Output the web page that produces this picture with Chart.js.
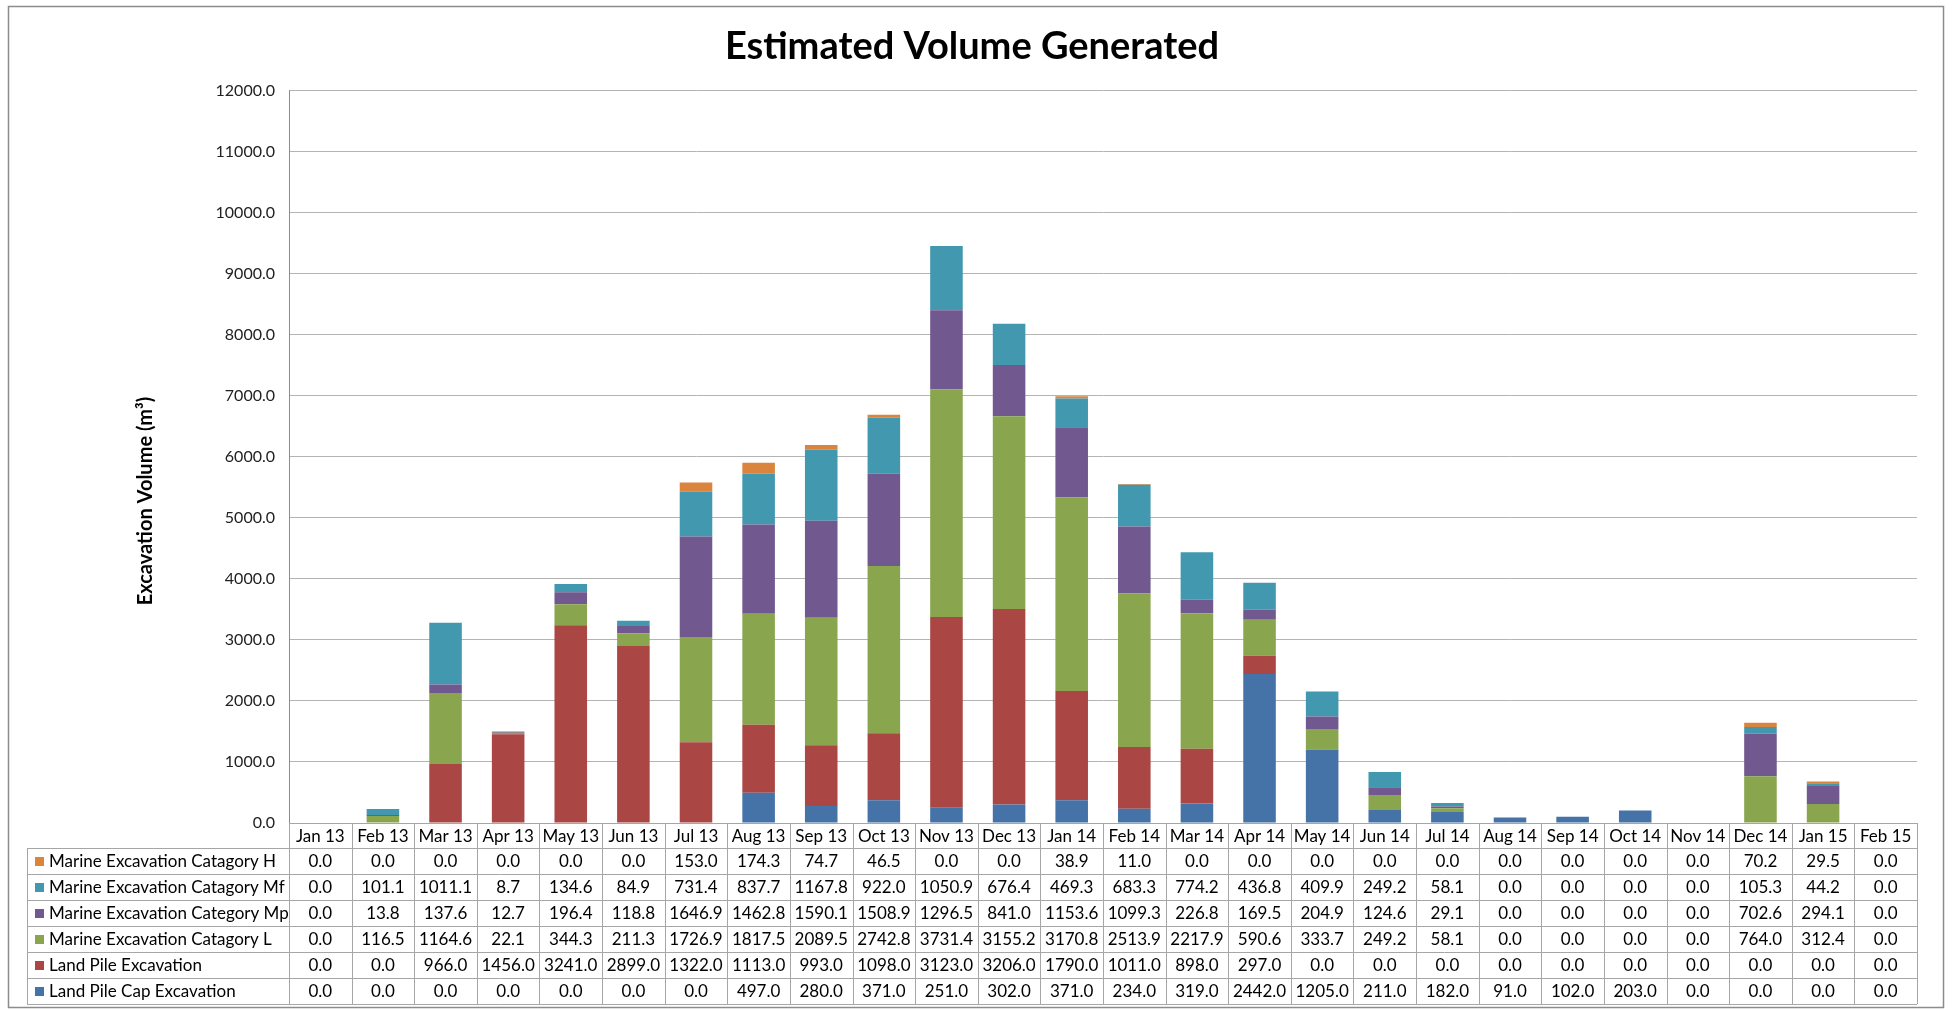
<!DOCTYPE html>
<html>
<head>
<meta charset="utf-8">
<title>Estimated Volume Generated</title>
<script src="https://cdn.jsdelivr.net/npm/chart.js@4.4.1/dist/chart.umd.min.js"></script>
<style>
  html, body { margin: 0; padding: 0; background: #fff; }
  #wrap { width: 1952px; height: 1011px; position: relative; }
</style>
</head>
<body>
<div id="wrap"><canvas id="volChart"></canvas></div>
<script>
// months on the x axis
const months = ['Jan 13', 'Feb 13', 'Mar 13', 'Apr 13', 'May 13', 'Jun 13', 'Jul 13', 'Aug 13', 'Sep 13',
    'Oct 13', 'Nov 13', 'Dec 13', 'Jan 14', 'Feb 14', 'Mar 14', 'Apr 14', 'May 14', 'Jun 14', 'Jul 14',
    'Aug 14', 'Sep 14', 'Oct 14', 'Nov 14', 'Dec 14', 'Jan 15', 'Feb 15'];

// series values (m3)
const catH = [0, 0, 0, 0, 0, 0, 153.0, 174.3, 74.7, 46.5, 0, 0, 38.9, 11.0, 0, 0, 0, 0, 0, 0, 0, 0, 0, 70.2, 29.5, 0];
const catMf = [0, 101.1, 1011.1, 8.7, 134.6, 84.9, 731.4, 837.7, 1167.8, 922.0, 1050.9, 676.4, 469.3, 683.3, 774.2,
    436.8, 409.9, 249.2, 58.1, 0, 0, 0, 0, 105.3, 44.2, 0];
const catMp = [0, 13.8, 137.6, 12.7, 196.4, 118.8, 1646.9, 1462.8, 1590.1, 1508.9, 1296.5, 841.0, 1153.6, 1099.3,
    226.8, 169.5, 204.9, 124.6, 29.1, 0, 0, 0, 0, 702.6, 294.1, 0];
const catL = [0, 116.5, 1164.6, 22.1, 344.3, 211.3, 1726.9, 1817.5, 2089.5, 2742.8, 3731.4, 3155.2, 3170.8, 2513.9,
    2217.9, 590.6, 333.7, 249.2, 58.1, 0, 0, 0, 0, 764.0, 312.4, 0];
const landPile = [0, 0, 966, 1456, 3241, 2899, 1322, 1113, 993, 1098, 3123, 3206, 1790, 1011, 898, 297, 0, 0, 0,
    0, 0, 0, 0, 0, 0, 0];
const landPileCap = [0, 0, 0, 0, 0, 0, 0, 497, 280, 371, 251, 302, 371, 234, 319, 2442, 1205, 211, 182, 91, 102,
    203, 0, 0, 0, 0];

// y axis
const yMax = 12000;
const yStep = 1000;

const FONT = 'Lato, "Open Sans", sans-serif';

// stacking order: first dataset sits at the bottom
const series = [
    { label: 'Land Pile Cap Excavation', data: landPileCap, color: '#4572A7' },
    { label: 'Land Pile Excavation', data: landPile, color: '#AA4643' },
    { label: 'Marine Excavation Catagory L', data: catL, color: '#89A54E' },
    { label: 'Marine Excavation Category Mp', data: catMp, color: '#71588F' },
    { label: 'Marine Excavation Catagory Mf', data: catMf, color: '#4198AF' },
    { label: 'Marine Excavation Catagory H', data: catH, color: '#DB843D' }
];

// white background + outer frame
const framePlugin = {
    id: 'frame',
    beforeDraw(chart) {
        const ctx = chart.ctx;
        ctx.save();
        ctx.fillStyle = '#fff';
        ctx.fillRect(0, 0, chart.width, chart.height);
        ctx.strokeStyle = '#8c8c8c';
        ctx.lineWidth = 1.5;
        ctx.strokeRect(8.5, 6.5, chart.width - 17, chart.height - 10);
        ctx.restore();
    }
};

// rotated y axis title, centred on the whole chart like Excel does
const yTitlePlugin = {
    id: 'yTitle',
    afterDraw(chart) {
        const ctx = chart.ctx;
        ctx.save();
        ctx.translate(146, 501);
        ctx.rotate(-Math.PI / 2);
        ctx.font = 'bold 20px ' + FONT;
        ctx.fillStyle = '#000';
        ctx.textAlign = 'center';
        ctx.textBaseline = 'middle';
        ctx.fillText('Excavation Volume (m\u00B3)', 0, 0);
        ctx.restore();
    }
};

// data table under the plot
const tablePlugin = {
    id: 'dataTable',
    afterDraw(chart) {
        const ctx = chart.ctx;
        const a = chart.chartArea;
        const x = chart.scales.x;
        const colW = x.getPixelForValue(1) - x.getPixelForValue(0);
        const headH = 25, rowH = 26, legLeft = 27;
        const rows = series.slice().reverse();
        const top = a.bottom;
        const bottom = top + headH + rows.length * rowH;

        ctx.save();
        ctx.strokeStyle = '#a6a6a6';
        ctx.lineWidth = 1;

        // horizontal lines
        ctx.beginPath();
        ctx.moveTo(a.left, top + 0.5);
        ctx.lineTo(a.right, top + 0.5);
        for (let r = 0; r <= rows.length; r++) {
            const yy = Math.round(top + headH + r * rowH) + 0.5;
            ctx.moveTo(legLeft, yy);
            ctx.lineTo(a.right, yy);
        }
        // vertical lines
        for (let i = 0; i <= months.length; i++) {
            const xx = Math.round(x.getPixelForValue(i) - colW / 2) + 0.5;
            ctx.moveTo(xx, top);
            ctx.lineTo(xx, bottom);
        }
        ctx.moveTo(legLeft + 0.5, top + headH);
        ctx.lineTo(legLeft + 0.5, bottom);
        ctx.stroke();

        ctx.font = '17px ' + FONT;
        ctx.fillStyle = '#000';
        ctx.textBaseline = 'middle';
        ctx.textAlign = 'center';
        months.forEach((m, i) => {
            ctx.fillText(m, x.getPixelForValue(i), top + headH / 2 + 1);
        });

        rows.forEach((s, r) => {
            const cy = top + headH + r * rowH + rowH / 2 + 1;
            ctx.fillStyle = s.color;
            ctx.fillRect(legLeft + 8, cy - 5, 9, 9);
            ctx.fillStyle = '#000';
            ctx.textAlign = 'left';
            ctx.fillText(s.label, legLeft + 22, cy);
            ctx.textAlign = 'center';
            s.data.forEach((v, i) => {
                ctx.fillText(v.toFixed(1), x.getPixelForValue(i), cy);
            });
        });
        ctx.restore();
    }
};

new Chart(document.getElementById('volChart'), {
    type: 'bar',
    data: {
        labels: months,
        datasets: series.map(s => ({
            label: s.label,
            data: s.data,
            backgroundColor: s.color,
            borderWidth: 0,
            barPercentage: 0.52,
            categoryPercentage: 1.0
        }))
    },
    options: {
        responsive: true,
        maintainAspectRatio: false,
        animation: false,
        layout: {
            padding: { left: 27, right: 35, top: 0, bottom: 188 }
        },
        plugins: {
            legend: { display: false },
            tooltip: { enabled: false },
            title: {
                display: true,
                text: 'Estimated Volume Generated',
                color: '#000',
                font: { family: FONT, size: 38, weight: 'bold' },
                padding: { top: 24, bottom: 21 }
            }
        },
        scales: {
            x: {
                stacked: true,
                display: false
            },
            y: {
                stacked: true,
                min: 0,
                max: yMax,
                afterFit(scale) { scale.width = 262; },
                ticks: {
                    stepSize: yStep,
                    padding: 14,
                    color: '#222',
                    font: { family: FONT, size: 16 },
                    callback: v => v.toFixed(1)
                },
                grid: {
                    color: '#b4b4b4',
                    drawTicks: false
                },
                border: { color: '#8c8c8c' }
            }
        }
    },
    plugins: [framePlugin, yTitlePlugin, tablePlugin]
});
</script>
</body>
</html>
